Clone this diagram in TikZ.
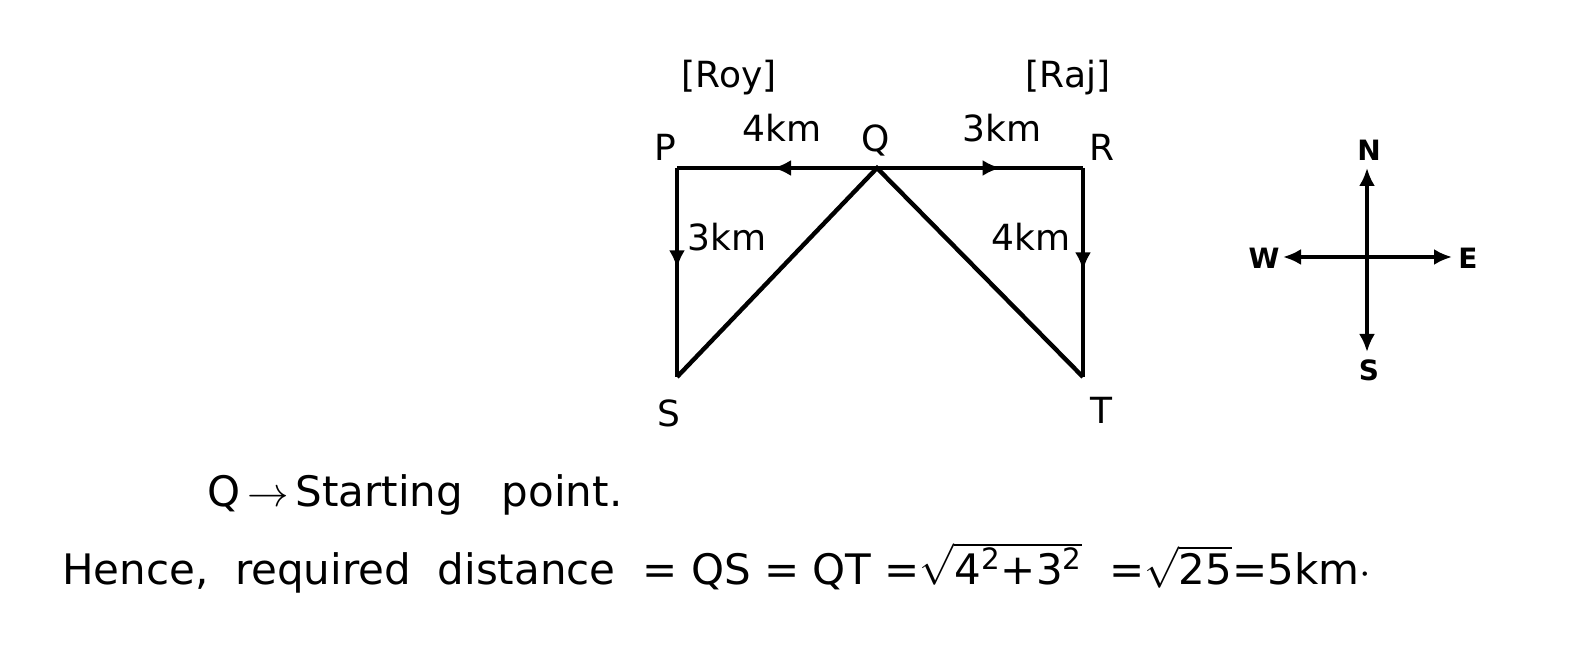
\documentclass[tikz,border=0pt]{standalone}
\usepackage{fontspec}
\setmainfont{DejaVu Sans}
\usepackage{amsmath}
\usetikzlibrary{arrows.meta,decorations.markings}
\tikzset{font=\fontsize{18}{22}\selectfont}
\tikzset{
  walk/.style={line width=2.2pt},
  midarrow/.style={postaction={decorate},
    decoration={markings,mark=at position #1 with {\arrow{Latex[length=9pt,width=8pt]}}}},
  compass/.style={line width=1.7pt,-{Latex[length=9pt,width=8pt]}},
  dirlabel/.style={font=\fontsize{14}{16}\selectfont\bfseries},
  bigtext/.style={font=\fontsize{21}{25}\selectfont,anchor=base west},
}

\begin{document}
\begin{tikzpicture}[x=0.5pt,y=-0.5pt]
  \useasboundingbox (0,0) rectangle (1596,656);
  % path of the two walkers
  \coordinate (P) at (677,168);
  \coordinate (Q) at (877,168);
  \coordinate (R) at (1083,168);
  \coordinate (S) at (677,377);
  \coordinate (T) at (1083,377);
  \draw[walk,midarrow=0.52] (Q)--(P);
  \draw[walk,midarrow=0.6] (Q)--(R);
  \draw[walk,midarrow=0.48] (P)--(S);
  \draw[walk,midarrow=0.49] (R)--(T);
  \draw[walk,line join=miter] (S)--(Q)--(T);
  \node (roy) at (729,78) {[Roy]};
  \node (raj) at (1068,78) {[Raj]};
  \node (lP) at (665,147) {P};
  \node (lQ) at (876,140) {Q};
  \node (lR) at (1102,147) {R};
  \node (lS) at (669,413) {S};
  \node (lT) at (1101,410) {T};
  \node (dPQ) at (782,128) {4km};
  \node (dQR) at (1002,128) {3km};
  \node (dPS) at (727,237) {3km};
  \node (dRT) at (1031,237) {4km};
  % directions
  \coordinate (O) at (1367,257);
  \coordinate (north) at (1367,168);
  \coordinate (south) at (1367,352);
  \coordinate (west) at (1283,257);
  \coordinate (east) at (1452,257);
  \foreach \d in {north,south,west,east}
    \draw[compass] (O)--(\d);
  \node[dirlabel] (lN) at (1369,150) {N};
  \node[dirlabel] (lSo) at (1369,370) {S};
  \node[dirlabel] (lW) at (1264,258) {W};
  \node[dirlabel] (lE) at (1468,258) {E};
  % working
  \node[bigtext] (start) at (200,507) {Q\,$\rightarrow$\,Starting\ \ \hspace{6pt}point.};
  \node[bigtext] (hence) at (55,585) {Hence,\ \ required\ \ distance\ \ =\ QS\ =\ QT\ =$\sqrt{\mbox{4\textsuperscript{2}+3\textsuperscript{2}}}$\ \ =$\sqrt{\mbox{25}}$=5km$\cdot$};
\end{tikzpicture}
\end{document}
